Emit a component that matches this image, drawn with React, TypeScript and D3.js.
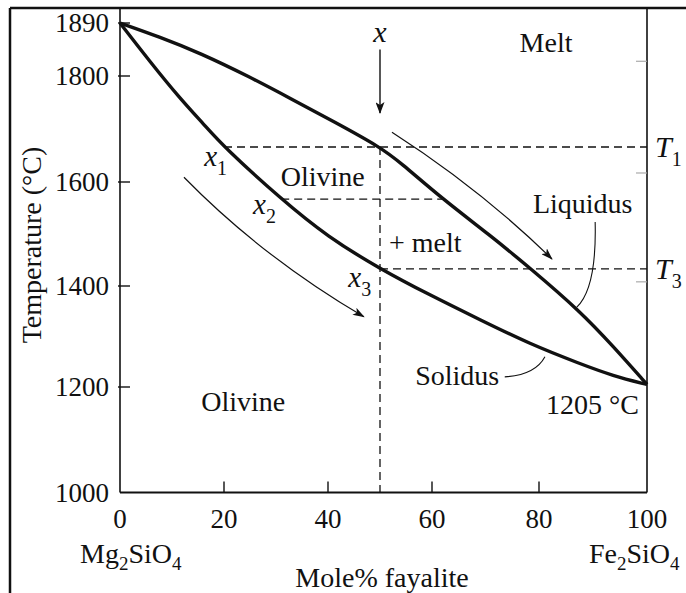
import React from 'react';
import * as d3 from 'd3';

// ---- data ----
const xTicks: number[] = [0, 20, 40, 60, 80, 100];
const yTicks: number[] = [1000, 1200, 1400, 1600, 1800, 1890];
const xTickLabels: string[] = ['0', '20', '40', '60', '80', '100'];
const yTickLabels: string[] = ['1000', '1200', '1400', '1600', '1800', '1890'];
const rightMinorTicks: number[] = [1825, 1617, 1408];

// mole% fayalite, temperature (°C)
const liquidus: [number, number][] = [
  [0, 1890], [7.7, 1866], [15.4, 1839], [25, 1798], [32.7, 1758], [41.3, 1713], [50, 1666],
  [53.8, 1638], [62, 1567], [70.8, 1498], [78.5, 1433], [87.6, 1350], [93.7, 1281], [100, 1205],
];
const solidus: [number, number][] = [
  [0, 1890], [5.8, 1824], [11.5, 1758], [16.2, 1708], [20, 1666], [31, 1567], [40, 1494],
  [50, 1433], [59.6, 1382], [69, 1333], [78.3, 1285], [87.6, 1246], [93.7, 1222], [100, 1205],
];

const bulkX = 50;
const tempLevels: number[] = [1666, 1567, 1433]; // T1, T2, T3
const solidusAt: number[] = [20, 31, 50]; // x1, x2, x3
const liquidusAt: number[] = [50, 62, 78.5];

const xArrow: [number, number][] = [[50, 1845], [50, 1730]];
const leftArrow: [number, number][] = [[12.3, 1609], [27.3, 1456], [46.9, 1339]];
const rightArrow: [number, number][] = [[52.3, 1694], [69, 1587], [82.4, 1452]];
const liquidusLeader: [number, number][] = [[90.4, 1523], [90.7, 1396], [87, 1358]];
const solidusLeader: [number, number][] = [[73.6, 1220], [79.3, 1224], [81.1, 1260]];

const regionLabels: { text: string; c: number; t: number; anchor: string }[] = [
  { text: 'Melt', c: 81.3, t: 1841, anchor: 'middle' },
  { text: 'Olivine', c: 39, t: 1592, anchor: 'middle' },
  { text: '+ melt', c: 58.7, t: 1465, anchor: 'middle' },
  { text: 'Liquidus', c: 88.1, t: 1540, anchor: 'middle' },
  { text: 'Solidus', c: 64.7, t: 1204, anchor: 'middle' },
  { text: '1205 °C', c: 98.5, t: 1149, anchor: 'end' },
  { text: 'Olivine', c: 23.7, t: 1154, anchor: 'middle' },
];
const pointLabels: { sub: string; c: number; t: number }[] = [
  { sub: '1', c: 16.2, t: 1630 },
  { sub: '2', c: 25.6, t: 1538 },
  { sub: '3', c: 43.9, t: 1398 },
];
const tLabels: { sub: string; t: number }[] = [
  { sub: '1', t: 1666 },
  { sub: '3', t: 1433 },
];

const FONT = "'Liberation Serif', 'Times New Roman', serif";
const INK = '#111';

export default function App() {
  const W = 686, H = 593;
  const x = d3.scaleLinear().domain(xTicks).range([120, 224, 328, 432, 539, 647]);
  const y = d3.scaleLinear().domain(yTicks).range([492.5, 387, 286, 182, 76, 23]);
  const line = d3.line<[number, number]>().x(d => x(d[0])).y(d => y(d[1])).curve(d3.curveBasis);
  const q = (p: [number, number][]) =>
    `M${x(p[0][0])},${y(p[0][1])} Q${x(p[1][0])},${y(p[1][1])} ${x(p[2][0])},${y(p[2][1])}`;

  const x0 = x(0), x100 = x(100), yBot = y(1000);

  return (
    <svg width={W} height={H} style={{ position: 'absolute', left: 0, top: 0, background: '#fff' }}
      fontFamily={FONT} fill={INK}>
      <defs>
        <marker id="ah" viewBox="0 0 12 8" refX="11" refY="4" markerWidth="12" markerHeight="8"
          markerUnits="userSpaceOnUse" orient="auto">
          <path d="M0,0 L12,4 L0,8 L3,4 Z" fill={INK} />
        </marker>
        <marker id="ahx" viewBox="0 0 12 9" refX="11" refY="4.5" markerWidth="13" markerHeight="9"
          markerUnits="userSpaceOnUse" orient="auto">
          <path d="M0,0 L12,4.5 L0,9 L3,4.5 Z" fill={INK} />
        </marker>
      </defs>

      {/* outer frame */}
      <line x1={10} y1={8} x2={W} y2={8} stroke={INK} strokeWidth={2.5} />
      <line x1={10} y1={8} x2={10} y2={H} stroke={INK} strokeWidth={2.5} />

      {/* axes */}
      <line x1={x0} y1={8} x2={x0} y2={yBot} stroke={INK} strokeWidth={1.6} />
      <line x1={x100} y1={8} x2={x100} y2={yBot} stroke={INK} strokeWidth={1.6} />
      <line x1={x0} y1={yBot} x2={x100} y2={yBot} stroke={INK} strokeWidth={1.8} />

      {yTicks.map((t, i) => (
        <g key={'yt' + i}>
          {t !== 1000 && <line x1={x0 - 2} x2={x0 + 10} y1={y(t)} y2={y(t)} stroke={INK} strokeWidth={1.4} />}
          <text x={109} y={y(t) + 9} fontSize={27} textAnchor="end">{yTickLabels[i]}</text>
        </g>
      ))}
      {rightMinorTicks.map((t, i) => (
        <line key={'rt' + i} x1={x100 - 11} x2={x100} y1={y(t)} y2={y(t)} stroke="#aaa" strokeWidth={1.2} />
      ))}
      {xTicks.map((t, i) => (
        <g key={'xt' + i}>
          {t !== 0 && t !== 100 && <line x1={x(t)} x2={x(t)} y1={yBot} y2={yBot - 11} stroke={INK} strokeWidth={1.4} />}
          <text x={x(t)} y={528} fontSize={27} textAnchor="middle">{xTickLabels[i]}</text>
        </g>
      ))}

      {/* axis titles */}
      <text transform={`translate(41,245) rotate(-90)`} fontSize={28} textAnchor="middle">Temperature (°C)</text>
      <text x={382} y={587} fontSize={28} textAnchor="middle">Mole% fayalite</text>
      <text x={80} y={563} fontSize={28}>Mg<tspan fontSize={19} dy={7}>2</tspan><tspan dy={-7}>SiO</tspan><tspan fontSize={19} dy={7}>4</tspan></text>
      <text x={589} y={563} fontSize={28}>Fe<tspan fontSize={19} dy={7}>2</tspan><tspan dy={-7}>SiO</tspan><tspan fontSize={19} dy={7}>4</tspan></text>

      {/* dashed construction lines */}
      <g stroke={INK} strokeWidth={1.3} strokeDasharray="8,5" fill="none">
        <line x1={x(bulkX)} x2={x(bulkX)} y1={y(tempLevels[0])} y2={yBot} />
        <line x1={x(solidusAt[0])} x2={x100} y1={y(tempLevels[0])} y2={y(tempLevels[0])} />
        <line x1={x(solidusAt[1])} x2={x(liquidusAt[1])} y1={y(tempLevels[1])} y2={y(tempLevels[1])} />
        <line x1={x(solidusAt[2])} x2={x100} y1={y(tempLevels[2])} y2={y(tempLevels[2])} />
      </g>

      {/* liquidus & solidus */}
      <path d={line(liquidus) || ''} fill="none" stroke={INK} strokeWidth={3.4} strokeLinejoin="round" />
      <path d={line(solidus) || ''} fill="none" stroke={INK} strokeWidth={3.4} strokeLinejoin="round" />

      {/* arrows */}
      <line x1={x(xArrow[0][0])} y1={y(xArrow[0][1])} x2={x(xArrow[1][0])} y2={y(xArrow[1][1])}
        stroke={INK} strokeWidth={1.4} markerEnd="url(#ahx)" />
      <path d={q(leftArrow)} fill="none" stroke={INK} strokeWidth={1.2} markerEnd="url(#ah)" />
      <path d={q(rightArrow)} fill="none" stroke={INK} strokeWidth={1.2} markerEnd="url(#ah)" />
      <path d={q(liquidusLeader)} fill="none" stroke={INK} strokeWidth={1.1} />
      <path d={q(solidusLeader)} fill="none" stroke={INK} strokeWidth={1.1} />

      {/* labels */}
      <text x={x(50)} y={y(1858)} fontSize={30} fontStyle="italic" textAnchor="middle">x</text>
      {regionLabels.map((l, i) => (
        <text key={'rl' + i} x={x(l.c)} y={y(l.t)} fontSize={28} textAnchor={l.anchor}>{l.text}</text>
      ))}
      {pointLabels.map((p, i) => (
        <text key={'pl' + i} x={x(p.c)} y={y(p.t)} fontSize={29} fontStyle="italic">x<tspan fontStyle="normal" fontSize={20} dy={9}>{p.sub}</tspan></text>
      ))}
      {tLabels.map((p, i) => (
        <text key={'tl' + i} x={x100 + 8} y={y(p.t) + 10} fontSize={30} fontStyle="italic">T<tspan fontStyle="normal" fontSize={20} dy={9}>{p.sub}</tspan></text>
      ))}
    </svg>
  );
}
